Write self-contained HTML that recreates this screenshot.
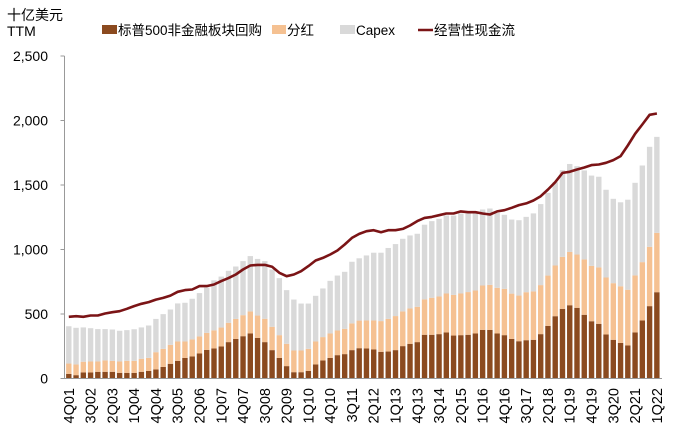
<!DOCTYPE html>
<html><head><meta charset="utf-8"><style>
body{margin:0;background:#fff;}
svg{display:block;font-family:"Liberation Sans","Noto Sans CJK SC",sans-serif;}
</style></head><body>
<svg id="chart" width="700" height="434" viewBox="0 0 700 434" xmlns="http://www.w3.org/2000/svg">
<text x="7" y="20" font-size="14" fill="#000">十亿美元</text>
<text x="7" y="36" font-size="14" fill="#000">TTM</text>
<g font-size="13.5" fill="#000">
<g><rect x="102" y="25" width="15" height="9" fill="#8B4A1F"/><text x="118" y="35">标普500非金融板块回购</text></g>
<g><rect x="272" y="25" width="14" height="9" fill="#F5C192"/><text x="287" y="35">分红</text></g>
<g><rect x="340" y="25" width="15" height="9" fill="#D9D9D9"/><text x="356" y="35">Capex</text></g>
<g><line x1="418" y1="30" x2="433" y2="30" stroke="#7B1416" stroke-width="2.5"/><text x="434" y="35">经营性现金流</text></g>
</g>
<g id="yaxis"></g>
<g id="bars"></g>
<g id="xaxis"></g>
<g id="line"></g>
</svg>
<script>
const buyback=[36,26,47,47,52,52,52,44,44,44,52,59,70,90,114,137,160,171,194,222,233,248,282,307,328,349,315,282,220,160,96,49,49,59,109,140,160,181,189,220,235,233,225,207,209,220,251,269,282,339,339,344,357,333,336,339,349,377,377,349,336,307,289,297,300,344,408,483,540,568,548,494,444,424,341,300,276,256,357,450,561,669];
const dividend=[80,83,83,85,80,88,85,88,93,93,101,101,134,140,147,150,127,132,132,132,140,147,150,155,163,171,173,181,181,176,173,168,168,171,178,181,189,191,196,207,214,217,225,238,253,264,269,274,274,274,287,292,302,315,323,331,333,344,349,354,359,351,354,372,375,380,390,393,403,413,413,429,429,437,442,439,439,432,442,452,460,460];
const capex=[289,284,266,258,251,243,243,238,238,245,243,251,258,269,274,295,300,315,336,351,388,395,403,406,419,429,439,447,444,442,416,395,364,351,354,377,408,426,442,478,483,504,525,530,550,558,563,566,566,579,594,602,605,615,620,610,597,589,592,581,574,574,584,584,605,628,641,646,672,682,685,690,700,703,680,654,651,698,718,749,775,744];
const cashFlow=[478,483,478,488,488,504,514,522,540,561,579,592,612,625,643,672,685,690,716,716,729,755,778,806,845,876,881,881,866,819,793,806,832,871,915,935,961,992,1039,1090,1121,1142,1150,1134,1150,1150,1160,1186,1220,1245,1253,1266,1279,1279,1295,1289,1289,1279,1271,1295,1305,1323,1344,1357,1380,1413,1465,1522,1594,1602,1620,1636,1654,1659,1672,1693,1724,1806,1897,1969,2044,2054];
const yTicks=[0,500,1000,1500,2000,2500];
const yTickLabels=["0","500","1,000","1,500","2,000","2,500"];
const quarters=[];
quarters.push("4Q01");
for(let y=2;y<=21;y++){for(let q=1;q<=4;q++){quarters.push(q+"Q"+String(y).padStart(2,"0"));}}
quarters.push("1Q22");

const NS="http://www.w3.org/2000/svg";
const x0=64.5,step=7.26,bw=5.4;
const yScale=v=>378.5-v*(322.5/2500);
const xScale=i=>68.8+i*step;
function mk(tag,attrs,parent){const e=document.createElementNS(NS,tag);for(const k in attrs)e.setAttribute(k,attrs[k]);parent.appendChild(e);return e;}

const ya=document.getElementById('yaxis');
const axl=mk('line',{x1:x0,y1:yScale(0),x2:x0,y2:yScale(2500),stroke:'#999','stroke-width':1},ya);


yTicks.forEach((v,i)=>{
  const t=mk('line',{x1:x0-4,y1:yScale(v),x2:x0,y2:yScale(v),stroke:'#999'},ya);
  
  
  const l=mk('text',{x:48,y:yScale(v)+5,'text-anchor':'end','font-size':14,fill:'#000'},ya);
  l.textContent=yTickLabels[i];
  
  
});

const bg=document.getElementById('bars');
for(let i=0;i<quarters.length;i++){
  const x=xScale(i)-bw/2;
  let base=0;
  [[buyback[i],'#8B4A1F','bar-buyback'],[dividend[i],'#F5C192','bar-dividend'],[capex[i],'#D9D9D9','bar-capex']].forEach(([v,c,n])=>{
    const r=mk('rect',{x:x,y:yScale(base+v),width:bw,height:yScale(base)-yScale(base+v),fill:c},bg);
    
    
    base+=v;
  });
}

const xa=document.getElementById('xaxis');
const bl=mk('line',{x1:x0,y1:yScale(0),x2:662,y2:yScale(0),stroke:'#999'},xa);


for(let i=0;i<quarters.length;i+=3){
  const cx=xScale(i)+5;
  const t=mk('text',{x:0,y:0,'text-anchor':'end','font-size':14.5,fill:'#000',transform:`translate(${cx},388) rotate(-90)`},xa);
  t.textContent=quarters[i];
  
  
}

const lg=document.getElementById('line');
const pts=cashFlow.map((v,i)=>xScale(i).toFixed(1)+","+yScale(v).toFixed(1)).join(" ");
const pl=mk('polyline',{points:pts,fill:'none',stroke:'#7B1416','stroke-width':2.6,'stroke-linejoin':'round'},lg);


</script>
</body></html>
